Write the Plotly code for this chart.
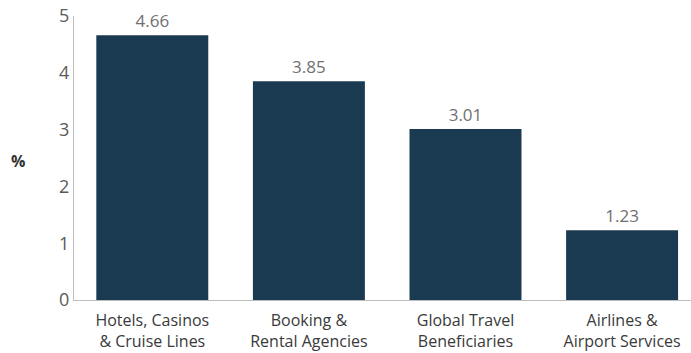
import plotly.graph_objects as go

categories = ["Hotels, Casinos<br>& Cruise Lines", "Booking &<br>Rental Agencies",
              "Global Travel<br>Beneficiaries", "Airlines &<br>Airport Services"]
values = [4.66, 3.85, 3.01, 1.23]
value_labels = ["4.66", "3.85", "3.01", "1.23"]
y_ticks = [0, 1, 2, 3, 4, 5]

fig = go.Figure()
fig.add_trace(go.Bar(
    x=list(range(len(categories))), y=values,
    marker=dict(color="#1a3a52", line=dict(width=0)),
    width=0.715,
    text=value_labels, textposition="outside", cliponaxis=False,
    textfont=dict(family="Open Sans", size=17, color="#707070"),
))
fig.update_layout(
    width=691, height=353,
    margin=dict(l=74, r=0, t=16, b=53),
    paper_bgcolor="white", plot_bgcolor="white",
    showlegend=False,
    font=dict(family="Open Sans", color="#555555"),
    xaxis=dict(range=[-0.5, 3.44], tickmode="array", automargin=False,
               tickvals=list(range(len(categories))), ticktext=categories,
               showline=True, linecolor="#bdbdbd", linewidth=1,
               showgrid=False, ticks="", ticklabelstandoff=6,
               tickfont=dict(family="Open Sans", size=16, color="#3a3a3a")),
    yaxis=dict(range=[0, 5], tickmode="array", tickvals=y_ticks, automargin=False,
               showline=True, linecolor="#bdbdbd", linewidth=1,
               showgrid=False, zeroline=False, ticks="", ticklen=0,
               tickfont=dict(family="Open Sans", size=18, color="#5a5a5a")),
    annotations=[dict(text="<b>%</b>", x=(18 - 74) / 617, y=(300 - 161) / 284,
                      xref="paper", yref="paper", xanchor="center", yanchor="middle",
                      showarrow=False, font=dict(family="Open Sans", size=16, color="#333333"))],
)
fig.write_html("out.html")
